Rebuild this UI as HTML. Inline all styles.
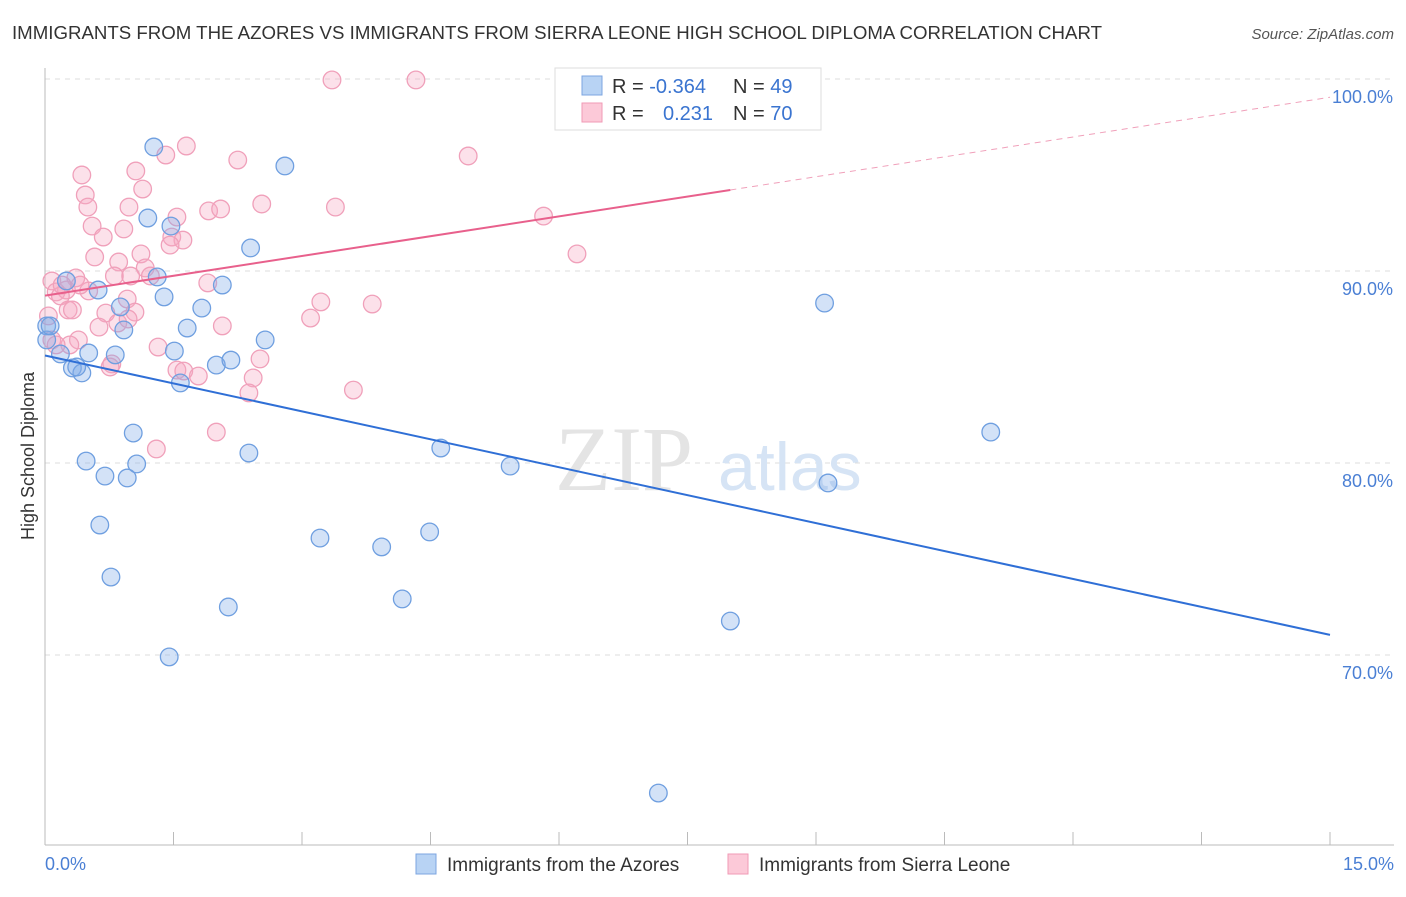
<!DOCTYPE html>
<html><head><meta charset="utf-8"><style>
body{margin:0;background:#fff;font-family:"Liberation Sans",sans-serif}
</style></head><body>
<svg id="chart" width="1406" height="892" xmlns="http://www.w3.org/2000/svg">
<text x="12" y="39" font-size="18" fill="#333" textLength="1090" lengthAdjust="spacingAndGlyphs">IMMIGRANTS FROM THE AZORES VS IMMIGRANTS FROM SIERRA LEONE HIGH SCHOOL DIPLOMA CORRELATION CHART</text>
<text x="1394" y="39" font-size="15" fill="#555" font-style="italic" text-anchor="end">Source: ZipAtlas.com</text>
<g id="grid"></g>
<g><text x="555" y="490" font-size="92" fill="#e4e4e4" font-family="Liberation Serif,serif">ZIP</text><text x="718" y="490" font-size="68" fill="#d6e4f5">atlas</text></g>
<line x1="45" y1="68" x2="45" y2="845" stroke="#bbb"/>
<line x1="45" y1="845" x2="1394" y2="845" stroke="#bbb"/>
<g id="pts"></g><g id="lines"></g>
<text transform="translate(34,456) rotate(-90)" font-size="18" fill="#333" text-anchor="middle">High School Diploma</text>
<text x="45" y="870" font-size="18" fill="#4a7fd4">0.0%</text>
<text x="1394" y="870" font-size="18" fill="#4a7fd4" text-anchor="end">15.0%</text>
<g>
<rect x="555" y="68" width="266" height="62" fill="#fff" stroke="#ddd"/>
<rect x="582" y="76" width="20" height="19" fill="#b8d3f4" stroke="#7ca6e0"/>
<rect x="582" y="103" width="20" height="19" fill="#fcc9d8" stroke="#f09ab6"/>
<text x="612" y="93" font-size="20" fill="#333">R = <tspan fill="#3a74d0">-0.364</tspan><tspan x="733">N = </tspan><tspan fill="#3a74d0">49</tspan></text>
<text x="612" y="120" font-size="20" fill="#333">R = <tspan x="663" fill="#3a74d0">0.231</tspan><tspan x="733">N = </tspan><tspan fill="#3a74d0">70</tspan></text>
</g>
<g><rect x="416" y="854" width="20" height="20" fill="#b8d3f4" stroke="#7ca6e0"/><text x="447" y="871" font-size="19" fill="#333">Immigrants from the Azores</text></g>
<g><rect x="728" y="854" width="20" height="20" fill="#fcc9d8" stroke="#f09ab6"/><text x="759" y="871" font-size="19" fill="#333">Immigrants from Sierra Leone</text></g>
</svg>
<script>
const yTicks=[100,90,80,70];
const xTicks=[0,1.5,3,4.5,6,7.5,9,10.5,12,13.5,15];
const blueX=[1.27,2.80,1.20,1.47,2.40,0.25,0.62,1.31,2.07,1.39,1.83,0.88,9.10,1.66,0.92,0.02,2.57,0.18,0.51,0.82,1.51,0.32,0.43,0.37,2.00,2.17,1.58,1.03,2.38,4.62,5.43,11.04,9.14,0.48,1.07,0.70,0.96,0.64,3.21,3.93,4.49,0.77,2.14,4.17,8.00,1.45,7.16,0.02,0.06];
const blueY=[96.46,95.47,92.76,92.34,91.20,89.48,89.01,89.69,89.27,88.65,88.07,88.13,88.33,87.03,86.93,87.14,86.41,85.68,85.73,85.63,85.83,84.95,84.69,85.00,85.10,85.36,84.17,81.56,80.52,80.78,79.84,81.61,78.96,80.10,79.95,79.32,79.22,76.77,76.09,75.63,76.41,74.06,72.50,72.92,71.77,69.90,62.81,86.41,87.14];
const pinkX=[3.35,4.33,1.65,1.41,2.25,4.94,0.43,1.06,0.47,1.14,0.50,0.98,2.53,3.39,1.91,2.05,1.54,5.82,0.55,0.92,0.68,1.48,1.61,1.46,1.12,6.21,0.58,0.86,1.17,0.08,0.36,0.81,1.00,1.23,1.90,0.13,0.25,0.18,0.51,0.96,3.22,3.82,0.27,0.32,0.71,1.05,0.04,3.10,0.63,0.85,2.07,0.39,0.29,1.32,0.78,2.51,1.54,1.62,1.79,2.43,2.38,3.60,2.00,1.30,0.08,0.76,0.97,0.41,0.20,0.13];
const pinkY=[99.95,99.95,96.51,96.04,95.78,95.99,95.0,95.21,93.96,94.27,93.33,93.33,93.49,93.33,93.13,93.23,92.81,92.86,92.34,92.19,91.77,91.77,91.61,91.35,90.89,90.89,90.73,90.47,90.16,89.48,89.64,89.74,89.74,89.74,89.38,88.91,89.01,88.70,88.96,88.54,88.39,88.28,87.97,87.97,87.81,87.86,87.66,87.55,87.08,87.29,87.14,86.41,86.15,86.04,85.16,85.42,84.84,84.79,84.53,84.43,83.65,83.80,81.61,80.73,86.41,85.0,87.50,89.27,89.27,86.15];
const blueFit=[85.6,71.05];
const pinkFit=[88.72,94.22,99.05];
const pinkSolidEnd=8.0;
const sx=v=>45+v*(1285/15), sy=v=>79+(100-v)*19.2;
const NS='http://www.w3.org/2000/svg';
function mk(t,a,p){const e=document.createElementNS(NS,t);for(const k in a)e.setAttribute(k,a[k]);p.appendChild(e);return e;}
const grid=document.getElementById('grid');
yTicks.forEach(v=>{
 const l=mk('line',{x1:45,x2:1394,y1:sy(v),y2:sy(v),stroke:'#ddd','stroke-dasharray':'5,5'},grid);
 
 
 const t=mk('text',{x:1393,y:sy(v)+24,'font-size':18,fill:'#4a7fd4','text-anchor':'end'},grid);
 t.textContent=v.toFixed(1)+'%';
 
 
});
xTicks.forEach(v=>{
 const l=mk('line',{x1:sx(v),x2:sx(v),y1:845,y2:832,stroke:'#bbb'},grid);
 
 
});
const pts=document.getElementById('pts');
pinkX.forEach((x,i)=>{
 const c=mk('circle',{cx:sx(x),cy:sy(pinkY[i]),r:8.8,fill:'rgba(246,170,196,0.35)',stroke:'#f0a0ba','stroke-width':1.3},pts);
 
 
});
blueX.forEach((x,i)=>{
 const c=mk('circle',{cx:sx(x),cy:sy(blueY[i]),r:8.8,fill:'rgba(130,172,232,0.35)',stroke:'#6f9fe0','stroke-width':1.3},pts);
 
 
});
const lines=document.getElementById('lines');
const b=mk('line',{x1:sx(0),y1:sy(blueFit[0]),x2:sx(15),y2:sy(blueFit[1]),stroke:'#2f6fd6','stroke-width':2},lines);


const p=mk('line',{x1:sx(0),y1:sy(pinkFit[0]),x2:sx(pinkSolidEnd),y2:sy(pinkFit[1]),stroke:'#e8608c','stroke-width':2},lines);


const pd=mk('line',{x1:sx(pinkSolidEnd),y1:sy(pinkFit[1]),x2:sx(15),y2:sy(pinkFit[2]),stroke:'#f0a0ba','stroke-width':1,'stroke-dasharray':'6,5'},lines);


</script>
</body></html>
